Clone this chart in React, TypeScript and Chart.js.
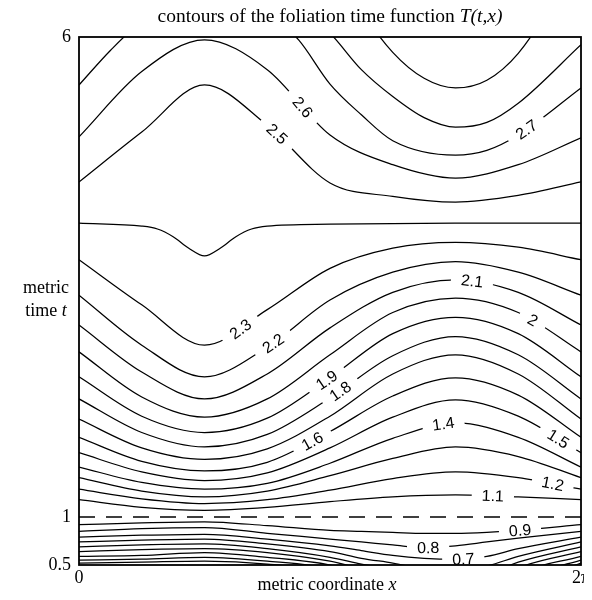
import React, { useEffect, useRef } from "react";
import { Chart, registerables } from "chart.js";

Chart.register(...registerables);

const PI = Math.PI;

// ---- x sample positions (radians) ----
const xMid = [0, PI / 4, PI / 2, (3 * PI) / 4, PI, (5 * PI) / 4, (3 * PI) / 2, (7 * PI) / 4, 2 * PI];
const xDip = [0, PI / 4, (5 * PI) / 16, (3 * PI) / 8, (7 * PI) / 16, PI / 2, (9 * PI) / 16, (5 * PI) / 8, (11 * PI) / 16, (3 * PI) / 4, PI, (3 * PI) / 2, 2 * PI];
const xLow = [0, PI / 4, PI / 2, (3 * PI) / 4, PI, (9 * PI) / 8, (5 * PI) / 4, (11 * PI) / 8, (3 * PI) / 2, (13 * PI) / 8, (7 * PI) / 4, 2 * PI];
const x27 = [0, PI / 8, PI / 4, PI / 2, (3 * PI) / 4, (7 * PI) / 8, PI, (9 * PI) / 8, (5 * PI) / 4, (3 * PI) / 2, (13 * PI) / 8, (7 * PI) / 4, 2 * PI];
const x29 = [0, PI / 2, PI, (9 * PI) / 8, (5 * PI) / 4, (11 * PI) / 8, (3 * PI) / 2, (13 * PI) / 8, (7 * PI) / 4, (15 * PI) / 8, 2 * PI];

// ---- metric time t of each contour level at those x positions ----
const T29 = [7.95, 7.95, 6.88, 6.28, 5.84, 5.57, 5.47, 5.55, 5.83, 6.33, 7.05];
const T28 = [6.07, 6.59, 6.91, 6.59, 6.04, 5.66, 5.38, 5.16, 5.06, 5.11, 5.31, 5.92];
const T27 = [5.5, 5.86, 6.16, 6.47, 6.26, 5.97, 5.51, 5.19, 4.92, 4.77, 4.82, 4.98, 5.47];
const T26 = [4.96, 5.64, 5.97, 5.66, 4.98, 4.67, 4.53, 4.67, 4.95];
const T25 = [4.49, 5.01, 5.5, 5.08, 4.48, 4.34, 4.28, 4.35, 4.49];
const T24 = [4.06, 4.03, 4.0, 3.92, 3.8, 3.72, 3.8, 3.92, 4.0, 4.03, 4.05, 4.06, 4.06];
const T23 = [3.68, 3.21, 2.79, 3.16, 3.59, 3.8, 3.86, 3.81, 3.68];
const T22 = [3.31, 2.79, 2.46, 2.77, 3.26, 3.55, 3.66, 3.55, 3.31];
const T21 = [3.0, 2.51, 2.23, 2.49, 2.97, 3.34, 3.47, 3.34, 3.0];
const T20 = [2.72, 2.25, 2.04, 2.23, 2.69, 3.13, 3.28, 3.13, 2.72];
const T19 = [2.46, 2.05, 1.88, 2.03, 2.45, 2.91, 3.08, 2.91, 2.46];
const T18 = [2.23, 1.88, 1.73, 1.86, 2.24, 2.68, 2.88, 2.69, 2.23];
const T17 = [2.02, 1.72, 1.6, 1.71, 2.05, 2.49, 2.69, 2.49, 2.02];
const T16 = [1.83, 1.58, 1.48, 1.57, 1.89, 2.26, 2.45, 2.27, 1.83];
const T15 = [1.67, 1.47, 1.38, 1.46, 1.72, 2.04, 2.22, 2.05, 1.67];
const T14 = [1.52, 1.36, 1.29, 1.35, 1.56, 1.82, 1.98, 1.83, 1.52];
const T13 = [1.41, 1.27, 1.21, 1.27, 1.43, 1.61, 1.73, 1.63, 1.41];
const T12 = [1.29, 1.19, 1.14, 1.18, 1.28, 1.4, 1.47, 1.41, 1.29];
const T11 = [1.18, 1.1, 1.07, 1.1, 1.16, 1.21, 1.23, 1.21, 1.18];
const T09 = [0.92, 0.94, 0.95, 0.91, 0.86, 0.85, 0.84, 0.83, 0.83, 0.84, 0.86, 0.92];
const T08 = [0.85, 0.88, 0.89, 0.83, 0.77, 0.74, 0.71, 0.68, 0.7, 0.74, 0.78, 0.85];
const T07 = [0.79, 0.81, 0.82, 0.77, 0.7, 0.65, 0.6, 0.57, 0.56, 0.59, 0.67, 0.79];
const T06 = [0.74, 0.76, 0.77, 0.72, 0.64, 0.57, 0.52, 0.46, 0.44, 0.49, 0.59, 0.74];
const T05 = [0.69, 0.71, 0.72, 0.67, 0.58, 0.51, 0.45, 0.36, 0.32, 0.4, 0.53, 0.69];
const T04 = [0.64, 0.66, 0.67, 0.63, 0.54, 0.46, 0.38, 0.26, 0.2, 0.29, 0.47, 0.64];
const T03 = [0.59, 0.6, 0.63, 0.58, 0.5, 0.41, 0.3, 0.16, 0.07, 0.19, 0.41, 0.59];
const T02 = [0.55, 0.56, 0.58, 0.54, 0.46, 0.35, 0.24, 0.05, -0.05, 0.07, 0.34, 0.55];
const T01 = [0.52, 0.53, 0.54, 0.51, 0.42, 0.3, 0.18, -0.02, -0.16, 0.01, 0.28, 0.52];

// dashed reference line t = 1
const xRef = [0, 2 * PI];
const tRef = [1, 1];

// ---- axis ticks ----
const xTickValues = [0, 2 * PI];
const xTickLabels = ["0", "2π"];
const yTickValues = [0.5, 1, 6];
const yTickLabels = ["0.5", "1", "6"];

// ---- contour labels: level text and x position (radians) ----
const labelLevels = ["2.7", "2.6", "2.5", "2.3", "2.2", "2.1", "2", "1.9", "1.8", "1.6", "1.4", "1.5", "1.2", "1.1", "0.9", "0.8", "0.7"];
const labelXs = [5.6, 2.8, 2.48, 2.02, 2.43, 4.92, 5.68, 3.1, 3.27, 2.92, 4.56, 6.0, 5.93, 5.18, 5.52, 4.37, 4.81];

const contours: { level: string; xs: number[]; ts: number[] }[] = [
  { level: "2.9", xs: x29, ts: T29 },
  { level: "2.8", xs: xLow, ts: T28 },
  { level: "2.7", xs: x27, ts: T27 },
  { level: "2.6", xs: xMid, ts: T26 },
  { level: "2.5", xs: xMid, ts: T25 },
  { level: "2.4", xs: xDip, ts: T24 },
  { level: "2.3", xs: xMid, ts: T23 },
  { level: "2.2", xs: xMid, ts: T22 },
  { level: "2.1", xs: xMid, ts: T21 },
  { level: "2", xs: xMid, ts: T20 },
  { level: "1.9", xs: xMid, ts: T19 },
  { level: "1.8", xs: xMid, ts: T18 },
  { level: "1.7", xs: xMid, ts: T17 },
  { level: "1.6", xs: xMid, ts: T16 },
  { level: "1.5", xs: xMid, ts: T15 },
  { level: "1.4", xs: xMid, ts: T14 },
  { level: "1.3", xs: xMid, ts: T13 },
  { level: "1.2", xs: xMid, ts: T12 },
  { level: "1.1", xs: xMid, ts: T11 },
  { level: "0.9", xs: xLow, ts: T09 },
  { level: "0.8", xs: xLow, ts: T08 },
  { level: "0.7", xs: xLow, ts: T07 },
  { level: "0.6", xs: xLow, ts: T06 },
  { level: "0.5", xs: xLow, ts: T05 },
  { level: "0.4", xs: xLow, ts: T04 },
  { level: "0.3", xs: xLow, ts: T03 },
  { level: "0.2", xs: xLow, ts: T02 },
  { level: "0.1", xs: xLow, ts: T01 },
];

const SERIF = "'Liberation Serif', 'Times New Roman', serif";
const SANS = "'Liberation Sans', Arial, sans-serif";
const LABEL_FONT = `16px ${SANS}`;

function cubic(a: number, b: number, c: number, d: number, u: number) {
  const v = 1 - u;
  return v * v * v * a + 3 * v * v * u * b + 3 * v * u * u * c + u * u * u * d;
}
function dcubic(a: number, b: number, c: number, d: number, u: number) {
  const v = 1 - u;
  return 3 * v * v * (b - a) + 6 * v * u * (c - b) + 3 * u * u * (d - c);
}

function labelGeom(chart: any, dsIndex: number, xVal: number) {
  const meta = chart.getDatasetMeta(dsIndex);
  const line: any = meta.dataset;
  if (line && typeof line.updateControlPoints === "function") line.updateControlPoints(chart.chartArea, "x");
  const pts: any[] = meta.data;
  const px = chart.scales.x.getPixelForValue(xVal);
  for (let k = 0; k < pts.length - 1; k++) {
    const p = pts[k];
    const q = pts[k + 1];
    if (px >= p.x && px <= q.x) {
      const x1 = p.cp2x ?? p.x, y1 = p.cp2y ?? p.y, x2 = q.cp1x ?? q.x, y2 = q.cp1y ?? q.y;
      let lo = 0, hi = 1;
      for (let it = 0; it < 40; it++) {
        const m = (lo + hi) / 2;
        if (cubic(p.x, x1, x2, q.x, m) < px) lo = m;
        else hi = m;
      }
      const u = (lo + hi) / 2;
      const y = cubic(p.y, y1, y2, q.y, u);
      const dx = dcubic(p.x, x1, x2, q.x, u);
      const dy = dcubic(p.y, y1, y2, q.y, u);
      return { x: px, y, a: Math.atan2(dy, dx) };
    }
  }
  return null;
}

function labelsFor(chart: any, dsIndex: number) {
  const ds = chart.data.datasets[dsIndex];
  const out: { x: number; y: number; a: number; text: string; w: number }[] = [];
  const ctx = chart.ctx;
  ctx.save();
  ctx.font = LABEL_FONT;
  labelLevels.forEach((lv, i) => {
    if (ds.label !== lv) return;
    const g = labelGeom(chart, dsIndex, labelXs[i]);
    if (!g) return;
    out.push({ ...g, text: lv, w: ctx.measureText(lv).width });
  });
  ctx.restore();
  return out;
}

const contourLabelPlugin = {
  id: "contourLabels",
  beforeDatasetDraw(chart: any, args: any) {
    const ctx = chart.ctx;
    ctx.save();
    const labs = labelsFor(chart, args.index);
    if (!labs.length) return;
    ctx.beginPath();
    ctx.rect(0, 0, chart.width, chart.height);
    labs.forEach((l) => {
      const hw = l.w / 2 + 10;
      const hh = 7;
      const c = Math.cos(l.a), s = Math.sin(l.a);
      const corners = [
        [-hw, -hh],
        [hw, -hh],
        [hw, hh],
        [-hw, hh],
      ].map(([u, v]) => [l.x + u * c - v * s, l.y + u * s + v * c]);
      ctx.moveTo(corners[0][0], corners[0][1]);
      for (let k = 1; k < 4; k++) ctx.lineTo(corners[k][0], corners[k][1]);
      ctx.closePath();
    });
    ctx.clip("evenodd");
  },
  afterDatasetDraw(chart: any) {
    chart.ctx.restore();
  },
  afterDatasetsDraw(chart: any) {
    const ctx = chart.ctx;
    const area = chart.chartArea;
    ctx.save();
    ctx.beginPath();
    ctx.rect(area.left, area.top, area.right - area.left, area.bottom - area.top);
    ctx.clip();
    ctx.font = LABEL_FONT;
    ctx.fillStyle = "#000";
    ctx.textAlign = "center";
    ctx.textBaseline = "middle";
    chart.data.datasets.forEach((_: any, i: number) => {
      labelsFor(chart, i).forEach((l) => {
        ctx.save();
        ctx.translate(l.x, l.y);
        ctx.rotate(l.a);
        ctx.fillText(l.text, 0, 1);
        ctx.restore();
      });
    });
    ctx.restore();
    ctx.save();
    ctx.strokeStyle = "#000";
    ctx.lineWidth = 1.8;
    ctx.strokeRect(area.left, area.top, area.right - area.left, area.bottom - area.top);
    ctx.restore();
  },
};

// page-coordinate text (container sits at page 8,8)
function Txt(props: { cx: number; baseline: number; size: number; children: React.ReactNode }) {
  const { cx, baseline, size, children } = props;
  return (
    <div
      style={{
        position: "absolute",
        left: cx - 8,
        top: baseline - 8 - 0.8375 * size,
        transform: "translateX(-50%)",
        whiteSpace: "nowrap",
        fontFamily: SERIF,
        fontSize: size,
        lineHeight: `${size}px`,
        color: "#000",
      }}
    >
      {children}
    </div>
  );
}

export default function App() {
  const ref = useRef<HTMLCanvasElement | null>(null);

  useEffect(() => {
    if (!ref.current) return;
    const datasets: any[] = contours.map((c) => ({
      label: c.level,
      data: c.xs.map((x, i) => ({ x, y: c.ts[i] })),
      borderColor: "#000",
      borderWidth: 1.25,
      pointRadius: 0,
      fill: false,
      cubicInterpolationMode: "monotone",
      capBezierPoints: false,
    }));
    datasets.push({
      label: "t=1",
      data: xRef.map((x, i) => ({ x, y: tRef[i] })),
      borderColor: "#000",
      borderWidth: 1.4,
      borderDash: [16, 11],
      pointRadius: 0,
      fill: false,
    });

    const chart = new Chart(ref.current, {
      type: "line",
      data: { datasets },
      options: {
        animation: false,
        responsive: true,
        maintainAspectRatio: false,
        layout: { padding: { top: 37, right: 11, left: 0, bottom: 0 } },
        elements: { line: { capBezierPoints: false } },
        plugins: { legend: { display: false }, tooltip: { enabled: false }, title: { display: false } },
        events: [],
        scales: {
          x: {
            type: "linear",
            min: 0,
            max: 2 * PI,
            grid: { display: false, drawTicks: false },
            border: { display: false },
            afterBuildTicks: (s: any) => {
              s.ticks = xTickValues.map((v) => ({ value: v }));
            },
            afterFit: (s: any) => {
              s.height = 35;
              s.paddingLeft = 0;
              s.paddingRight = 0;
            },
            ticks: {
              autoSkip: false,
              maxRotation: 0,
              padding: 2,
              color: "#000",
              font: { family: SERIF, size: 18 },
              callback: (v: any) => {
                const i = xTickValues.findIndex((t) => Math.abs(t - Number(v)) < 1e-6);
                return i >= 0 ? xTickLabels[i] : "";
              },
            },
          },
          y: {
            type: "linear",
            min: 0.5,
            max: 6,
            grid: { display: false, drawTicks: false },
            border: { display: false },
            afterBuildTicks: (s: any) => {
              s.ticks = yTickValues.map((v) => ({ value: v }));
            },
            afterFit: (s: any) => {
              s.width = 79;
            },
            ticks: {
              autoSkip: false,
              padding: 8,
              color: "#000",
              font: { family: SERIF, size: 18 },
              callback: (v: any) => {
                const i = yTickValues.findIndex((t) => Math.abs(t - Number(v)) < 1e-6);
                return i >= 0 ? yTickLabels[i] : "";
              },
            },
          },
        },
      },
      plugins: [contourLabelPlugin],
    } as any);
    return () => chart.destroy();
  }, []);

  return (
    <div style={{ position: "relative", width: 576, height: 584 }}>
      <div style={{ position: "absolute", left: -8, top: -8, width: 592, height: 600 }}>
        <canvas ref={ref} />
      </div>
      <Txt cx={330} baseline={22} size={19.5}>
        contours of the foliation time function <i>T(t,x)</i>
      </Txt>
      <Txt cx={327} baseline={590} size={18}>
        metric coordinate <i>x</i>
      </Txt>
      <Txt cx={46} baseline={293} size={18}>
        metric
      </Txt>
      <Txt cx={46} baseline={316} size={18}>
        time <i>t</i>
      </Txt>
    </div>
  );
}
